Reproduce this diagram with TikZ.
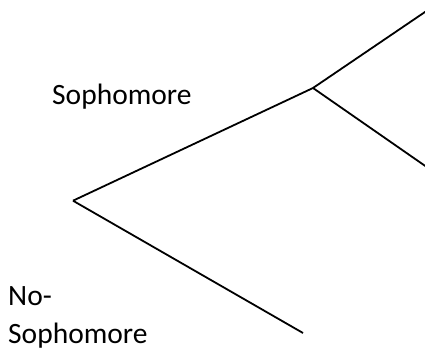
\documentclass[tikz,border=0pt]{standalone}
\usepackage{fontspec}
\setmainfont{Carlito}
\begin{document}
\begin{tikzpicture}[x=1pt,y=-1pt,
  branch/.style={line width=1.8pt,line cap=butt},
  lbl/.style={inner sep=0pt,anchor=base west,align=left,font=\fontsize{29.5}{38}\selectfont}]
\useasboundingbox (0,0) rectangle (425,351);
\clip (0,0) rectangle (425,351);
\coordinate (root) at (73,200.7);
\coordinate (mid) at (313,88);
\coordinate (up) at (426,11.3);
\coordinate (down) at (426,166.5);
\coordinate (low) at (303,333);
\draw[branch] (root) -- (mid);
\draw[branch] (mid) -- (up);
\draw[branch] (mid) -- (down);
\draw[branch] (root) -- (low);
\node[lbl] (soph) at (52,104.5) {Sophomore};
\node[lbl] (nosoph) at (8,343) {No-\\Sophomore};
\end{tikzpicture}
\end{document}
